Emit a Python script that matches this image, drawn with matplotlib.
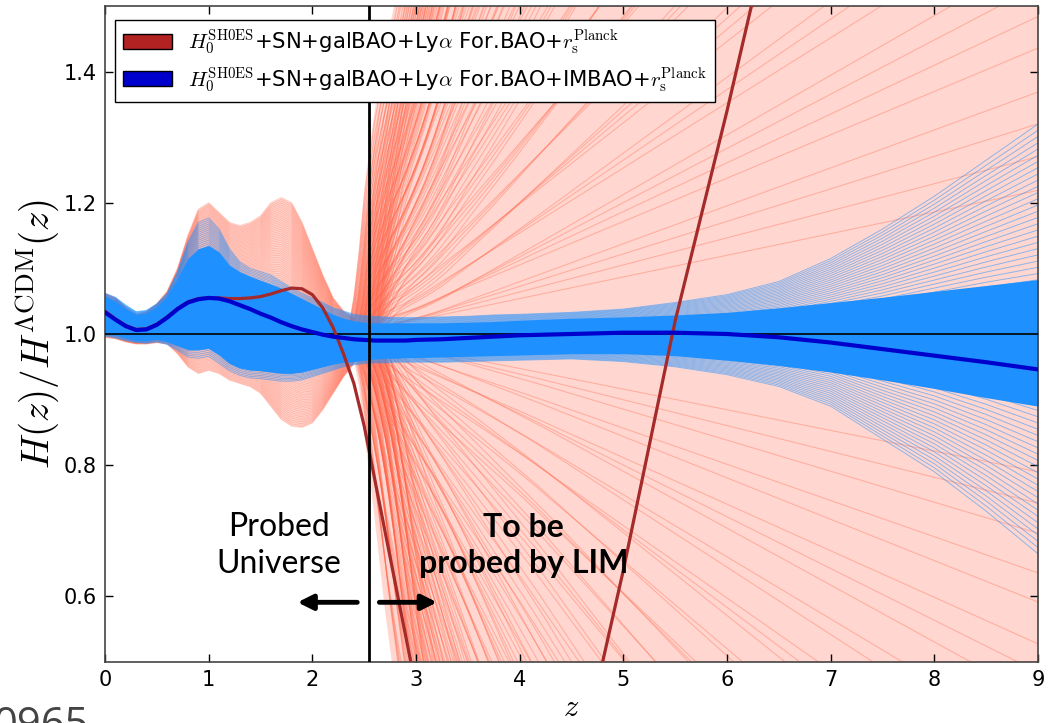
import numpy as np
import matplotlib
matplotlib.use("Agg")
import matplotlib.pyplot as plt
from matplotlib.patches import Patch

plt.rcParams["mathtext.fontset"] = "cm"
plt.rcParams["font.family"] = "DejaVu Sans"

# redshift nodes
z = [0.0, 0.1, 0.2, 0.3, 0.4, 0.5, 0.6, 0.7, 0.8, 0.9,
     1.0, 1.1, 1.2, 1.3, 1.4, 1.5, 1.6, 1.7, 1.8, 1.9,
     2.0, 2.1, 2.2, 2.3, 2.4, 2.5, 2.6, 2.7, 2.8, 2.9,
     3.0, 3.25, 3.5, 3.75, 4.0, 4.5, 5.0, 5.5, 6.0, 6.5,
     7.0, 7.5, 8.0, 8.5, 9.0]

# mean reconstructions
blue_mean = [1.033, 1.022, 1.012, 1.006, 1.007, 1.014, 1.025, 1.038, 1.048, 1.053,
             1.055, 1.054, 1.050, 1.044, 1.038, 1.031, 1.025, 1.018, 1.012, 1.007,
             1.003, 0.999, 0.996, 0.994, 0.992, 0.991, 0.990, 0.990, 0.990, 0.990,
             0.991, 0.992, 0.994, 0.996, 0.998, 1.000, 1.002, 1.002, 1.000, 0.995,
             0.987, 0.977, 0.967, 0.957, 0.946]
red_mean = [1.035, 1.023, 1.013, 1.007, 1.008, 1.015, 1.026, 1.039, 1.049, 1.054,
            1.055, 1.055, 1.054, 1.054, 1.055, 1.057, 1.061, 1.066, 1.070, 1.069,
            1.060, 1.040, 1.010, 0.970, 0.925, 0.860, 0.780, 0.700, 0.620, 0.540,
            0.460, 0.280, 0.140, 0.060, 0.040, 0.290, 0.640, 1.020, 1.340, 1.680,
            2.000, 2.300, 2.500, 2.600, 2.600]

# spread of the blue samples (dense core and outermost curves)
blue_core_hi = [1.058, 1.050, 1.038, 1.030, 1.032, 1.042, 1.058, 1.085, 1.115, 1.130,
                1.135, 1.125, 1.105, 1.095, 1.088, 1.082, 1.076, 1.070, 1.062, 1.054,
                1.046, 1.038, 1.030, 1.024, 1.020, 1.018, 1.017, 1.017, 1.017, 1.017,
                1.017, 1.017, 1.018, 1.019, 1.021, 1.024, 1.026, 1.029, 1.033, 1.040,
                1.048, 1.056, 1.065, 1.074, 1.083]
blue_core_lo = [1.000, 0.998, 0.994, 0.990, 0.990, 0.992, 0.988, 0.982, 0.976, 0.976,
                0.978, 0.968, 0.955, 0.948, 0.945, 0.944, 0.942, 0.940, 0.940, 0.942,
                0.946, 0.950, 0.954, 0.957, 0.958, 0.960, 0.962, 0.963, 0.963, 0.964,
                0.964, 0.965, 0.966, 0.967, 0.968, 0.970, 0.970, 0.967, 0.960, 0.952,
                0.942, 0.930, 0.917, 0.903, 0.890]
blue_out_hi = [1.062, 1.056, 1.044, 1.034, 1.036, 1.046, 1.062, 1.095, 1.140, 1.170,
               1.177, 1.160, 1.130, 1.110, 1.100, 1.095, 1.090, 1.080, 1.070, 1.062,
               1.055, 1.048, 1.040, 1.035, 1.030, 1.028, 1.027, 1.026, 1.025, 1.025,
               1.025, 1.026, 1.027, 1.029, 1.030, 1.033, 1.038, 1.048, 1.060, 1.080,
               1.115, 1.160, 1.210, 1.265, 1.320]
blue_out_lo = [0.997, 0.994, 0.990, 0.987, 0.986, 0.988, 0.984, 0.975, 0.965, 0.963,
               0.966, 0.955, 0.944, 0.937, 0.933, 0.932, 0.930, 0.928, 0.928, 0.930,
               0.935, 0.940, 0.945, 0.950, 0.953, 0.955, 0.956, 0.956, 0.957, 0.957,
               0.957, 0.957, 0.958, 0.959, 0.960, 0.962, 0.958, 0.950, 0.938, 0.920,
               0.890, 0.840, 0.790, 0.730, 0.665]

# red samples inside the data range (z <= 2.4)
red_band_hi = [1.062, 1.055, 1.040, 1.030, 1.034, 1.046, 1.065, 1.100, 1.150, 1.190,
               1.200, 1.185, 1.170, 1.165, 1.170, 1.180, 1.200, 1.208, 1.200, 1.170,
               1.130, 1.090, 1.055, 1.035, 1.025]
red_band_lo = [0.995, 0.993, 0.988, 0.985, 0.985, 0.987, 0.985, 0.970, 0.950, 0.940,
               0.945, 0.940, 0.930, 0.925, 0.920, 0.910, 0.890, 0.870, 0.860, 0.858,
               0.865, 0.885, 0.910, 0.935, 0.955]

# red samples past the data: steepest rising / falling curves of the fan
fan_z = [2.30, 2.35, 2.40, 2.45, 2.50, 2.60, 2.70, 2.80, 2.90, 3.00,
         3.25, 3.50, 4.00, 5.00, 6.00, 7.00, 8.00, 9.00]
fan_up = [1.00, 1.01, 1.06, 1.13, 1.22, 1.34, 1.43, 1.51, 1.60, 1.70,
          1.98, 2.25, 2.80, 3.90, 5.00, 6.10, 7.20, 8.30]
fan_dn = [1.00, 0.99, 0.96, 0.92, 0.85, 0.72, 0.58, 0.46, 0.35, 0.25,
          0.00, -0.25, -0.75, -1.80, -2.85, -3.90, -4.95, -6.00]

z_data_edge = 2.55
legend_labels = [
    r"$H_0^{\rm SH0ES}$+SN+galBAO+Ly$\alpha$ For.BAO+$r_{\rm s}^{\rm Planck}$",
    r"$H_0^{\rm SH0ES}$+SN+galBAO+Ly$\alpha$ For.BAO+IMBAO+$r_{\rm s}^{\rm Planck}$",
]

zz = np.array(z)
zb = zz[:len(red_band_hi)]
r_lo, r_hi = np.array(red_band_lo), np.array(red_band_hi)
fz, fu, fd = np.array(fan_z), np.array(fan_up), np.array(fan_dn)
b_lo, b_hi = np.array(blue_out_lo), np.array(blue_out_hi)

fig = plt.figure(figsize=(10.58, 7.23), dpi=100)
ax = fig.add_axes([105 / 1058, 61 / 723, 933 / 1058, 656 / 723])

red = "#FF6347"
# red sample curves
ax.fill_between(zb, r_lo, r_hi, color=red, alpha=0.2, lw=0, zorder=1)
for f in np.linspace(0, 1, 120):
    ax.plot(zb, r_lo + f * (r_hi - r_lo), color=red, alpha=0.3, lw=0.8, zorder=1)
ax.fill_between(fz, fd, fu, color=red, alpha=0.25, lw=0, zorder=1)
n_fan = 130
for k, f in enumerate(np.linspace(0.03, 1, n_fan)):
    # spread the starting points so no two fan curves run parallel
    d_up = 0.3 * ((k * 37) % n_fan) / n_fan
    d_dn = 0.3 * ((k * 53) % n_fan) / n_fan
    ax.plot(fz + d_up, 1 + f * (fu - 1), color=red, alpha=0.35, lw=0.8, zorder=1)
    ax.plot(fz + d_dn, 1 + f * (fd - 1), color=red, alpha=0.35, lw=0.8, zorder=1)

# blue sample curves
for f in np.linspace(0, 1, 70):
    ax.plot(zz, b_lo + f * (b_hi - b_lo), color="#1E90FF", alpha=0.5, lw=0.7, zorder=2)
ax.fill_between(zz, blue_core_lo, blue_core_hi, color="#1E90FF", lw=0, zorder=2)

ax.axhline(1.0, color="k", lw=1.2, zorder=3)
ax.plot(zz, red_mean, color="#A52A2A", lw=2.3, zorder=4)
ax.plot(zz, blue_mean, color="#0000CD", lw=3, zorder=5)
ax.axvline(z_data_edge, color="k", lw=2, zorder=6)

ax.set_xlim(0, 9)
ax.set_ylim(0.5, 1.5)
ax.set_xticks(range(10))
ax.set_yticks([0.6, 0.8, 1.0, 1.2, 1.4])
ax.tick_params(direction="in", top=True, right=True, length=6, width=1,
               labelsize=15, pad=6)
for s in ax.spines.values():
    s.set_color("#444444")
    s.set_linewidth(1.2)

ax.set_xlabel(r"$z$", fontsize=22, labelpad=2)
ax.set_ylabel(r"$H(z)/H^{\Lambda\rm CDM}(z)$", fontsize=28, labelpad=2)

handles = [Patch(facecolor="#B22222", edgecolor="k"),
           Patch(facecolor="#0000CD", edgecolor="k")]
leg = ax.legend(handles, legend_labels, loc="upper left", bbox_to_anchor=(0.0107, 0.979),
                borderaxespad=0, fontsize=15.2, handlelength=2.3, labelspacing=0.4,
                borderpad=0.38, fancybox=False, framealpha=1, edgecolor="k")
leg.set_zorder(10)

# annotations
ax.text(1.68, 0.678, "Probed\nUniverse", ha="center", va="center", fontsize=23,
        family="Lato", linespacing=1.3, zorder=7)
ax.text(4.04, 0.678, "To be\nprobed by LIM", ha="center", va="center", fontsize=23,
        family="Lato", weight="bold", linespacing=1.3, zorder=7)
arrow = dict(arrowstyle="-|>,head_width=0.45,head_length=0.9", lw=3.5, color="k")
ax.annotate("", xy=(1.83, 0.591), xytext=(2.46, 0.591), arrowprops=arrow, zorder=7)
ax.annotate("", xy=(3.23, 0.591), xytext=(2.62, 0.591), arrowprops=arrow, zorder=7)

fig.text(-0.006, -0.019, "0965", fontsize=30, color="#444444", family="Open Sans",
         va="baseline")

fig.savefig("out.png", dpi=100)
